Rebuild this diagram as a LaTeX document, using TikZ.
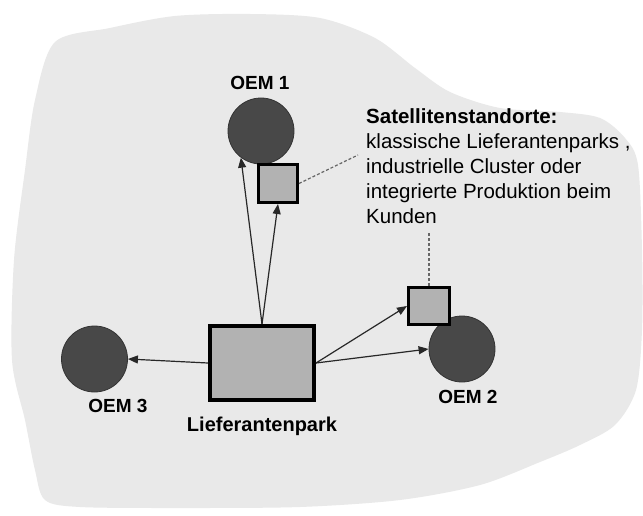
\documentclass[tikz,border=0pt]{standalone}
\usepackage{fontspec}
\setmainfont{Liberation Sans}
\usetikzlibrary{arrows.meta}
\definecolor{blobgray}{RGB}{233,233,233}
\definecolor{oemfill}{RGB}{72,72,72}
\definecolor{boxfill}{RGB}{178,178,178}
\definecolor{linegray}{RGB}{40,40,40}
\begin{document}
\begin{tikzpicture}[x=1pt,y=-1pt,
  oem/.style={circle, fill=oemfill, draw=black!80, line width=0.8pt, minimum size=66pt, inner sep=0pt},
  site/.style={rectangle, fill=boxfill, draw=black, line width=3pt, inner sep=0pt},
  lbl/.style={font=\fontsize{19}{22}\selectfont\bfseries, inner sep=0pt},
  flow/.style={draw=linegray, line width=1.2pt, -{Triangle[length=10pt,width=8pt]}},
  leader/.style={draw=black!60, line width=1.2pt, dash pattern=on 3pt off 2pt}]
\useasboundingbox (0,0) rectangle (643,516);
\fill[white] (0,0) rectangle (643,516);

% region outline
\fill[blobgray] plot[smooth cycle, tension=0.5] coordinates {
  (55,42) (110,28) (175,16) (250,14) (320,18) (375,38) (415,68) (450,92)
  (500,108) (560,112) (600,118) (625,138) (638,165) (642,250) (642,330)
  (636,390) (615,425) (580,445) (540,462) (480,485) (400,500) (300,507)
  (180,508) (80,507) (45,500) (35,470) (25,420) (12,360) (14,260)
  (25,170) (35,100)};

% OEMs
\node[oem] (oem1) at (261,131) {};
\node[oem] (oem2) at (462,349) {};
\node[oem] (oem3) at (94.5,359) {};

% supplier park and satellite sites
\node[site, line width=4pt, minimum width=104pt, minimum height=74pt] (park) at (262,363) {};
\node[site, minimum width=39pt, minimum height=38pt] (sq1) at (278,183.5) {};
\node[site, minimum width=41pt, minimum height=37pt] (sq2) at (429,306) {};

% labels
\node[lbl] (l1) at (260,83) {OEM 1};
\node[lbl] (l2) at (468,397) {OEM 2};
\node[lbl] (l3) at (118,406) {OEM 3};
\node[lbl, font=\fontsize{20}{22}\selectfont\bfseries] (lp) at (262,426) {Lieferantenpark};

% supply flows
\draw[flow] (park.north) -- (oem1.233);
\draw[flow] (park.north) -- (sq1.south);
\draw[flow] (park.east) -- (sq2.west);
\draw[flow] (park.east) -- (oem2.west);
\draw[flow] (park.west) -- (oem3.east);

% explanation
\node[anchor=north west, align=left, inner sep=0pt,
      font=\fontsize{20.5}{25}\selectfont] (sat) at (366,108)
  {\textbf{Satellitenstandorte:}\\ klassische Lieferantenparks ,\\ industrielle Cluster oder\\ integrierte Produktion beim\\ Kunden};
\coordinate (lead1) at (358,155);
\coordinate (lead2) at (429,232);
\draw[leader] (sq1.east) -- (lead1);
\draw[leader] (sq2.north) -- (lead2);
\end{tikzpicture}
\end{document}
